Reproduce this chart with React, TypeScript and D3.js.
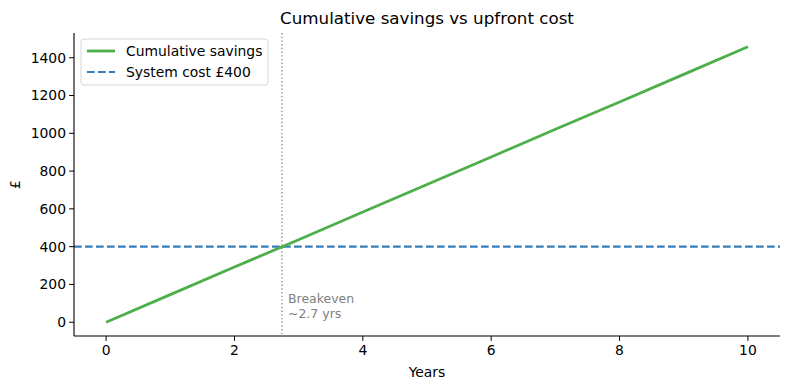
import React from 'react';
import * as d3 from 'd3';

const years = [0, 1, 2, 3, 4, 5, 6, 7, 8, 9, 10];
const cumulativeSavings = [0, 146, 292, 437, 583, 729, 875, 1021, 1166, 1312, 1458];
const systemCost = 400;
const breakevenYear = 2.74;
const xTicks = [0, 2, 4, 6, 8, 10];
const yTicks = [0, 200, 400, 600, 800, 1000, 1200, 1400];
const legendLabels = ['Cumulative savings', 'System cost £400'];

const W = 790;
const H = 390;
const margin = { left: 74, right: 10, top: 33, bottom: 54 };
const font = 'DejaVu Sans, sans-serif';
const green = '#4daf4a';
const blue = '#377eb8';
const dash = '7.7,3.3';

export default function App() {
	const width = W - margin.left - margin.right;
	const height = H - margin.top - margin.bottom;

	// scales with matplotlib style 5% padding
	const x = d3.scaleLinear().domain([-0.5, 10.5]).range([0, width]);
	const yMax = d3.max(cumulativeSavings) as number;
	const pad = yMax * 0.05;
	const y = d3.scaleLinear().domain([-pad, yMax + pad]).range([height, 0]);

	const line = d3.line<number>()
		.x((d, i) => x(years[i]))
		.y(d => y(d));

	return (
		<svg width={W} height={H} style={{ position: 'absolute', left: 0, top: 0 }} fontFamily={font}>
			<rect width={W} height={H} fill="#fff" />
			<text x={margin.left + width / 2} y={24} textAnchor="middle" fontSize={16.7}>
				Cumulative savings vs upfront cost
			</text>
			<g transform={`translate(${margin.left},${margin.top})`}>
				{/* reference lines */}
				<line x1={0} x2={width} y1={y(systemCost)} y2={y(systemCost)}
					stroke={blue} strokeWidth={2.1} strokeDasharray={dash} />
				<line x1={x(breakevenYear)} x2={x(breakevenYear)} y1={0} y2={height}
					stroke="#808080" strokeWidth={1.2} strokeDasharray="1.4,2.3" />
				<path d={line(cumulativeSavings) || ''} fill="none" stroke={green} strokeWidth={2.8} />
				<text x={x(breakevenYear) + 6} y={y(0) - 19} fontSize={12.5} fill="#808080">
					<tspan x={x(breakevenYear) + 6}>Breakeven</tspan>
					<tspan x={x(breakevenYear) + 6} dy={15}>~2.7 yrs</tspan>
				</text>

				{/* axes */}
				<line x1={0} x2={0} y1={0} y2={height} stroke="#000" strokeWidth={1.1} />
				<line x1={0} x2={width} y1={height} y2={height} stroke="#000" strokeWidth={1.1} />
				{xTicks.map(t => (
					<g key={t} transform={`translate(${x(t)},${height})`}>
						<line y2={4.9} stroke="#000" />
						<text y={19} textAnchor="middle" fontSize={13.9} fill="#000">{t}</text>
					</g>
				))}
				{yTicks.map(t => (
					<g key={t} transform={`translate(0,${y(t)})`}>
						<line x2={-4.9} stroke="#000" />
						<text x={-8} dy="0.35em" textAnchor="end" fontSize={13.9} fill="#000">{t}</text>
					</g>
				))}
				<text x={width / 2} y={height + 41} textAnchor="middle" fontSize={13.9}>Years</text>
				<text transform={`translate(${-54},${height / 2}) rotate(-90)`} textAnchor="middle" fontSize={13.9}>£</text>

				{/* legend */}
				<g transform="translate(7,6)">
					<rect width={187} height={46} rx={3} fill="#fff" fillOpacity={0.8} stroke="#d6d6d6" />
					<line x1={6} x2={34} y1={12} y2={12} stroke={green} strokeWidth={2.8} />
					<text x={45} y={12} dy="0.35em" fontSize={13.9}>{legendLabels[0]}</text>
					<line x1={6} x2={34} y1={33} y2={33} stroke={blue} strokeWidth={2.1} strokeDasharray={dash} />
					<text x={45} y={33} dy="0.35em" fontSize={13.9}>{legendLabels[1]}</text>
				</g>
			</g>
		</svg>
	);
}
